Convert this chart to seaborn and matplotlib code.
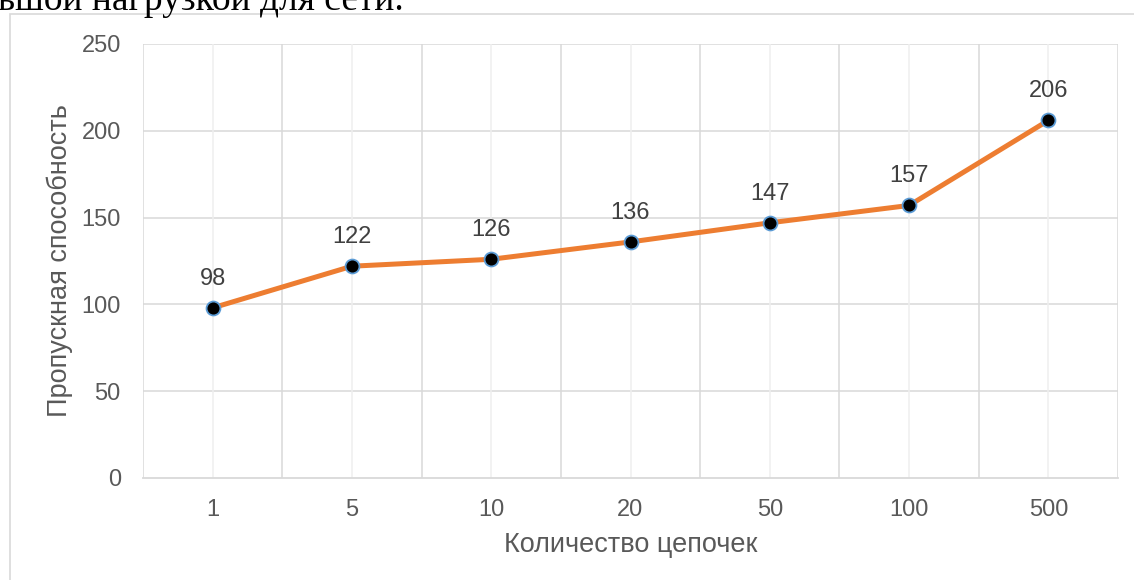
import matplotlib
matplotlib.use("Agg")
import matplotlib.pyplot as plt
import matplotlib.patches as mpatches
import seaborn as sns
import pandas as pd

categories = ["1", "5", "10", "20", "50", "100", "500"]
values = [98, 122, 126, 136, 147, 157, 206]
y_ticks = [0, 50, 100, 150, 200, 250]
x_title = "Количество цепочек"
y_title = "Пропускная способность"
top_text = "ьшой нагрузкой для сети."

sns.set_theme(style="white")
plt.rcParams["font.family"] = ["Liberation Sans", "DejaVu Sans"]

W, H = 1134, 580
fig = plt.figure(figsize=(W / 100, H / 100), dpi=100)
ax = fig.add_axes([143 / W, 1 - 478 / H, (1118 - 143) / W, (478 - 44) / H])

df = pd.DataFrame({"cat": categories, "val": values})
sns.pointplot(data=df, x="cat", y="val", order=categories, ax=ax,
              color="#ED7D31", markers="o", errorbar=None,
              linewidth=3.6, markersize=10,
              markerfacecolor="black", markeredgecolor="#5B9BD5",
              markeredgewidth=1.3)

for ln in ax.lines:
    ln.set_color("#ED7D31")
    ln.set_markerfacecolor("black")
    ln.set_markeredgecolor("#5B9BD5")
    ln.set_zorder(5)

n = len(categories)
ax.set_xlim(-0.5, n - 0.5)
ax.set_ylim(0, 250)
ax.set_yticks(y_ticks)
ax.set_xticks(range(n))
ax.set_xticklabels(categories)

ax.grid(False)
ax.set_axisbelow(True)
for yv in y_ticks[1:]:
    ax.axhline(yv, color="#D9D9D9", lw=1.1, zorder=0)
for i in range(n):
    ax.axvline(i, color="#EFEFEF", lw=1.1, zorder=0)
for i in range(n + 1):
    ax.axvline(i - 0.5, color="#D9D9D9", lw=1.1, zorder=0)

for s in ["top", "right", "left"]:
    ax.spines[s].set_visible(False)
ax.spines["bottom"].set_color("#D9D9D9")
ax.spines["bottom"].set_linewidth(1.3)

ax.tick_params(axis="both", which="both", length=0, labelsize=17,
               labelcolor="#595959")
ax.tick_params(axis="y", pad=16)
ax.tick_params(axis="x", pad=15)

ax.set_xlabel(x_title, fontsize=19.5, color="#595959", labelpad=8)
ax.set_ylabel(y_title, fontsize=19.5, color="#595959", labelpad=6)

for i, v in enumerate(values):
    ax.annotate(str(v), (i, v), xytext=(0, 21), textcoords="offset points",
                ha="center", va="center", fontsize=17, color="#404040")

frame = mpatches.Rectangle((10 / W, -0.2), 1.2, 0.2 + 1 - 14 / H,
                           transform=fig.transFigure, fill=False,
                           edgecolor="#D9D9D9", lw=1.2, zorder=-1)
fig.patches.append(frame)

fig.text(-2 / W, 1 - 10 / H, top_text, fontsize=27, va="baseline", ha="left",
         family=["Liberation Serif", "DejaVu Serif"], color="black")

fig.savefig("out.png", dpi=100)
